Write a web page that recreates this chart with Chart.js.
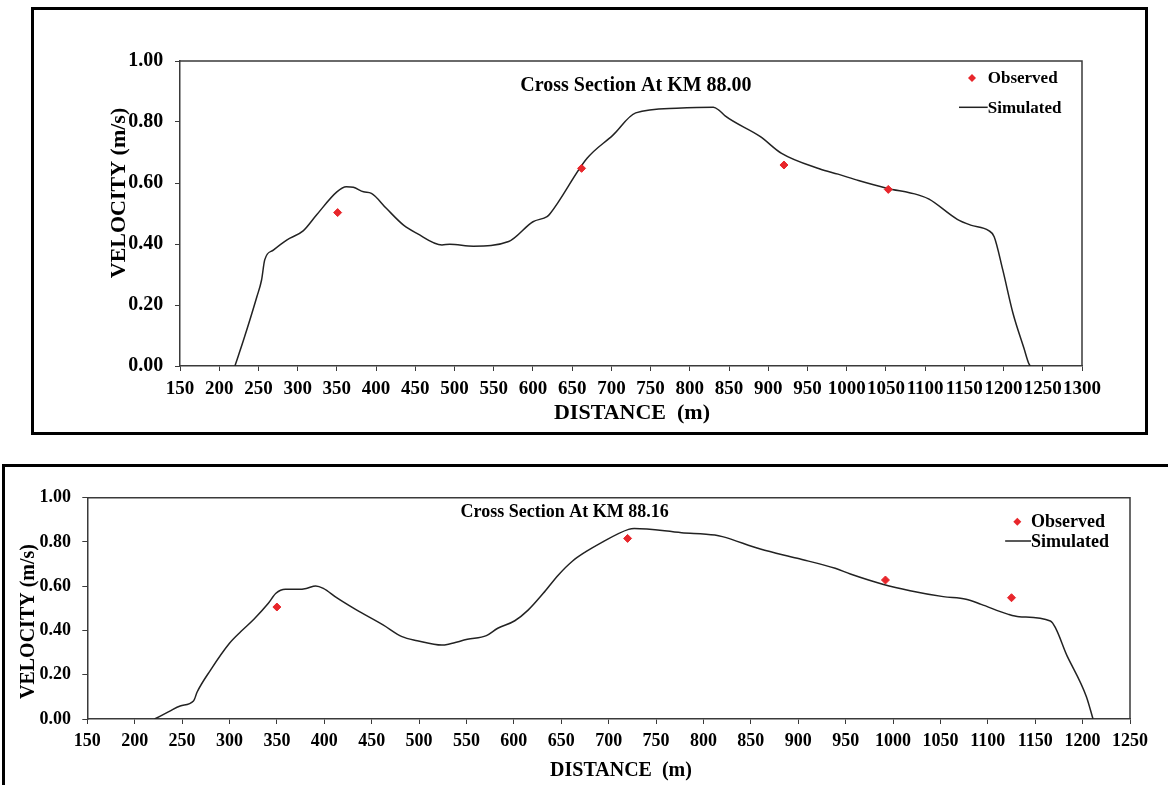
<!DOCTYPE html>
<html>
<head>
<meta charset="utf-8">
<script src="https://cdn.jsdelivr.net/npm/chart.js@4.4.0/dist/chart.umd.min.js"></script>
<style>
html,body{margin:0;padding:0;background:#fff;width:1168px;height:785px;overflow:hidden;position:relative}
.frame{position:absolute;box-sizing:border-box;border:3px solid #000}
#frameTop{left:31px;top:7px;width:1117px;height:428px}
#frameBot{left:2px;top:464px;width:1200px;height:400px}
canvas{position:absolute;left:0}
#cvTop{top:0}
#cvBot{top:460px}
</style>
</head>
<body>
<div class="frame" id="frameTop"></div>
<div class="frame" id="frameBot"></div>
<canvas id="cvTop" width="1168" height="440"></canvas>
<canvas id="cvBot" width="1168" height="325"></canvas>
<script>
/* ===== データ ===== */
// KM 88.00
const KM8800_SIM_X = [220, 231, 248, 254, 258, 269, 286, 307, 324, 350, 362, 371, 384, 394, 413, 435, 452, 484, 494, 524,
  569, 600, 618, 622, 669, 702, 731, 783, 830, 837, 845, 890, 917, 966, 989, 1015, 1051, 1091, 1105, 1141,
  1158, 1181, 1188, 1199, 1212, 1226, 1232, 1234];
const KM8800_SIM_V = [0.000, 0.085, 0.227, 0.282, 0.348, 0.380, 0.413, 0.443, 0.495, 0.571, 0.588, 0.586, 0.571, 0.566, 0.517, 0.462, 0.435, 0.397, 0.399, 0.393,
  0.408, 0.473, 0.490, 0.500, 0.681, 0.757, 0.830, 0.845, 0.848, 0.839, 0.820, 0.752, 0.697, 0.646, 0.629, 0.608, 0.583, 0.561, 0.547, 0.481,
  0.462, 0.444, 0.424, 0.315, 0.173, 0.058, 0.009, 0.000];
const KM8800_OBS_X = [351, 662, 920, 1053];
const KM8800_OBS_V = [0.503, 0.648, 0.659, 0.579];

// KM 88.16
const KM8816_SIM_X = [221, 236, 248, 262, 266, 280, 300, 312, 326, 341, 349, 359, 373, 381, 391, 399, 413, 433, 462, 482,
  498, 524, 532, 551, 571, 583, 601, 615, 631, 647, 662, 676, 691, 721, 727, 777, 812, 820, 860, 899,
  939, 955, 990, 1018, 1053, 1077, 1093, 1121, 1133, 1166, 1184, 1204, 1211];
const KM8816_SIM_V = [0.000, 0.033, 0.059, 0.081, 0.123, 0.221, 0.342, 0.395, 0.452, 0.523, 0.568, 0.586, 0.586, 0.590, 0.601, 0.590, 0.548, 0.495, 0.425, 0.372,
  0.354, 0.334, 0.339, 0.360, 0.377, 0.410, 0.444, 0.492, 0.568, 0.651, 0.714, 0.756, 0.794, 0.857, 0.861, 0.842, 0.831, 0.824, 0.768, 0.726,
  0.681, 0.655, 0.608, 0.580, 0.553, 0.541, 0.518, 0.474, 0.462, 0.443, 0.282, 0.101, 0.000];
const KM8816_OBS_X = [350, 720, 992, 1125];
const KM8816_OBS_V = [0.506, 0.816, 0.628, 0.548];

// 目盛り
const Y_TICKS = [0, 0.2, 0.4, 0.6, 0.8, 1.0];
const X_TICKS_TOP = [150, 200, 250, 300, 350, 400, 450, 500, 550, 600, 650, 700, 750, 800, 850, 900, 950, 1000, 1050, 1100, 1150, 1200, 1250, 1300];
const X_TICKS_BOT = [150, 200, 250, 300, 350, 400, 450, 500, 550, 600, 650, 700, 750, 800, 850, 900, 950, 1000, 1050, 1100, 1150, 1200, 1250];

/* ===== 共通スタイル ===== */
const SERIF = '"Liberation Serif", "Times New Roman", serif';
const RED = '#e8262b';
const LINE = '#222';
const AXIS = '#3a3a3a';

Chart.defaults.font.family = SERIF;
Chart.defaults.font.weight = 'bold';
Chart.defaults.color = '#000';

const xy = (xs, vs) => xs.map((x, i) => ({ x, y: vs[i] }));

/* ===== 枠・タイトル・凡例・軸タイトル ===== */
const chartTextPlugin = {
  id: 'chartText',
  afterDraw(chart, args, o) {
    const { ctx, chartArea: a } = chart;
    ctx.save();
    // 上と右の枠線
    ctx.strokeStyle = AXIS;
    ctx.lineWidth = 1.5;
    ctx.beginPath();
    ctx.moveTo(a.left, a.top);
    ctx.lineTo(a.right, a.top);
    ctx.lineTo(a.right, a.bottom);
    ctx.stroke();

    ctx.fillStyle = '#000';
    ctx.textAlign = 'center';
    ctx.textBaseline = 'middle';

    // 図タイトル
    ctx.font = `bold ${o.titleSize}px ${SERIF}`;
    ctx.fillText(o.title, a.left + a.width * o.titleX, a.top + o.titleY);

    // 軸タイトル
    ctx.font = `bold ${o.axisSize}px ${SERIF}`;
    ctx.fillText(o.xTitle, o.xTitleAt[0], o.xTitleAt[1]);
    ctx.save();
    ctx.translate(o.yTitleAt[0], o.yTitleAt[1]);
    ctx.rotate(-Math.PI / 2);
    ctx.fillText(o.yTitle, 0, 0);
    ctx.restore();

    // 凡例
    ctx.font = `bold ${o.legendSize}px ${SERIF}`;
    ctx.textAlign = 'left';
    const mx = a.right - o.legendMarkX;
    const tx = a.right - o.legendTextX;
    chart.data.datasets.forEach((ds, i) => {
      const y = a.top + o.legendRows[i];
      if (ds.showLine) {
        ctx.strokeStyle = ds.borderColor;
        ctx.lineWidth = ds.borderWidth;
        ctx.beginPath();
        ctx.moveTo(mx - o.legendLine / 2, y);
        ctx.lineTo(tx, y);
        ctx.stroke();
      } else {
        const r = ds.pointRadius;
        ctx.fillStyle = ds.backgroundColor;
        ctx.beginPath();
        ctx.moveTo(mx, y - r); ctx.lineTo(mx + r, y); ctx.lineTo(mx, y + r); ctx.lineTo(mx - r, y);
        ctx.closePath();
        ctx.fill();
      }
      ctx.fillStyle = '#000';
      ctx.fillText(ds.label, tx, y + 1);
    });
    ctx.restore();
  }
};

/* ===== グラフ生成 ===== */
function makeChart(id, c) {
  const ctx = document.getElementById(id).getContext('2d');
  return new Chart(ctx, {
    type: 'scatter',
    data: {
      datasets: [
        {
          label: 'Observed',
          data: xy(c.obsX, c.obsV),
          pointStyle: 'rectRot',
          pointRadius: 4,
          backgroundColor: RED,
          borderColor: RED,
          borderWidth: 1,
          order: 0
        },
        {
          label: 'Simulated',
          data: xy(c.simX, c.simV),
          showLine: true,
          pointRadius: 0,
          borderColor: LINE,
          backgroundColor: LINE,
          borderWidth: 1.5,
          cubicInterpolationMode: 'monotone',
          order: 1
        }
      ]
    },
    options: {
      responsive: false,
      animation: false,
      layout: { padding: c.pad },
      scales: {
        x: {
          type: 'linear',
          min: c.xTicks[0],
          max: c.xTicks[c.xTicks.length - 1],
          afterBuildTicks: s => { s.ticks = c.xTicks.map(v => ({ value: v })); },
          afterFit: s => { s.height = c.xAxisH; },
          grid: { drawOnChartArea: false, drawTicks: true, tickLength: 5, color: AXIS, lineWidth: 1 },
          border: { display: true, color: AXIS, width: 1.5 },
          ticks: {
            autoSkip: false, maxRotation: 0, minRotation: 0,
            padding: c.xTickPad,
            font: { size: c.xTickSize, weight: 'bold' },
            color: '#000',
            callback: v => String(v)
          }
        },
        y: {
          type: 'linear',
          min: 0,
          max: 1,
          afterBuildTicks: s => { s.ticks = Y_TICKS.map(v => ({ value: v })); },
          afterFit: s => { s.width = c.yAxisW; },
          grid: { drawOnChartArea: false, drawTicks: true, tickLength: 5, color: AXIS, lineWidth: 1 },
          border: { display: true, color: AXIS, width: 1.5 },
          ticks: {
            padding: c.yTickPad,
            font: { size: c.yTickSize, weight: 'bold' },
            color: '#000',
            callback: v => Number(v).toFixed(2)
          }
        }
      },
      plugins: {
        legend: { display: false },
        tooltip: { enabled: false },
        chartText: c.text
      }
    },
    plugins: [chartTextPlugin]
  });
}

// 上段：KM 88.00
makeChart('cvTop', {
  simX: KM8800_SIM_X, simV: KM8800_SIM_V, obsX: KM8800_OBS_X, obsV: KM8800_OBS_V,
  xTicks: X_TICKS_TOP,
  pad: { left: 106, right: 86, top: 61, bottom: 14 },
  yAxisW: 74, xAxisH: 60,
  xTickPad: 6.6, xTickSize: 19, yTickPad: 11.7, yTickSize: 20,
  text: {
    title: 'Cross Section At KM 88.00', titleSize: 20, titleX: 0.5055, titleY: 25,
    xTitle: 'DISTANCE  (m)', yTitle: 'VELOCITY (m/s)', axisSize: 22,
    xTitleAt: [632, 413], yTitleAt: [119, 193],
    legendSize: 17, legendMarkX: 110, legendTextX: 94.3, legendLine: 26, legendRows: [17, 46.3]
  }
});

// 下段：KM 88.16
makeChart('cvBot', {
  simX: KM8816_SIM_X, simV: KM8816_SIM_V, obsX: KM8816_OBS_X, obsV: KM8816_OBS_V,
  xTicks: X_TICKS_BOT,
  pad: { left: 17, right: 38, top: 37.7, bottom: 2 },
  yAxisW: 70.3, xAxisH: 64,
  xTickPad: 6.9, xTickSize: 18, yTickPad: 11.3, yTickSize: 18,
  text: {
    title: 'Cross Section At KM 88.16', titleSize: 18, titleX: 0.4578, titleY: 14.6,
    xTitle: 'DISTANCE  (m)', yTitle: 'VELOCITY (m/s)', axisSize: 20,
    xTitleAt: [621, 311], yTitleAt: [29, 161.5],
    legendSize: 18, legendMarkX: 112.7, legendTextX: 99, legendLine: 24.3, legendRows: [24, 43.3]
  }
});
</script>
</body>
</html>
